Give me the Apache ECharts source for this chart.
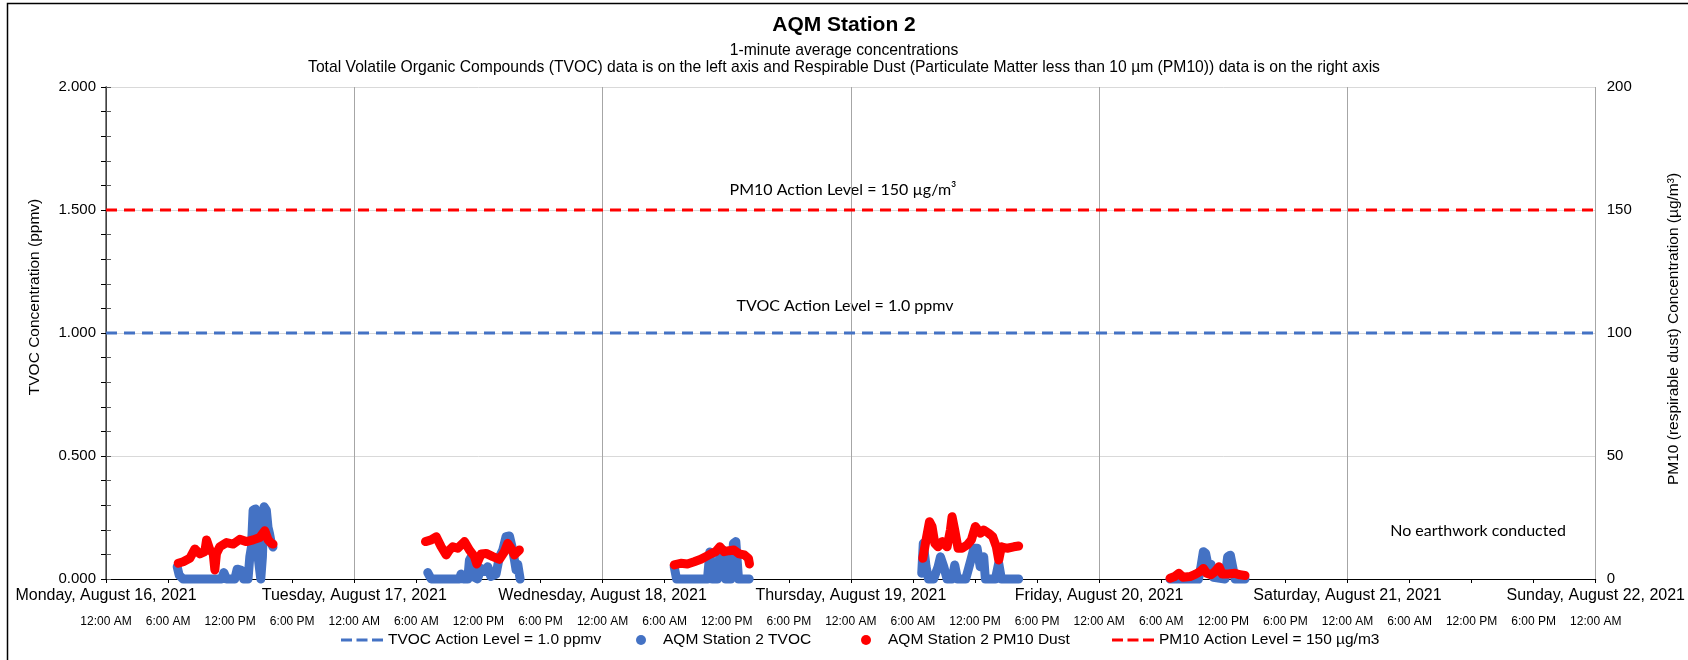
<!DOCTYPE html>
<html><head><meta charset="utf-8">
<script src="https://cdn.jsdelivr.net/npm/echarts@6/dist/echarts.min.js"></script>
<style>html,body{margin:0;padding:0;background:#fff}#c{width:1688px;height:660px}</style>
</head><body><div id="c"></div>
<script>
// ---- tick labels ----
const dayLabels = ['Monday, August 16, 2021','Tuesday, August 17, 2021','Wednesday, August 18, 2021','Thursday, August 19, 2021','Friday, August 20, 2021','Saturday, August 21, 2021','Sunday, August 22, 2021'];
const timeLabels = ['12:00 AM','6:00 AM','12:00 PM','6:00 PM'];
// x values are hours since Monday, August 16, 2021 12:00 AM
const xStart = 0, xEnd = 144;
const tvocActionLevel = 1.0;   // ppmv
const pm10ActionLevel = 150;   // µg/m3

// ---- TVOC (ppmv) readings ----
const tvocDay1 = [[6.88,0.05],[7.07,0.016],[7.45,0],[11.16,0],[11.39,0.026],[11.65,0],[12.45,0],[12.68,0.04],[13.1,0.035],[13.3,0],[13.73,0],[13.9,0.09],[14.06,0.13],[14.22,0.28],[14.44,0.285],[14.54,0.186],[14.7,0.09],[14.96,0],[15.12,0.09],[15.28,0.294],[15.5,0.28],[15.66,0.21],[15.8,0.186],[15.98,0.145],[16.14,0.13]];
const tvocDay2 = [[31.1,0.026],[31.43,0],[34.15,0],[34.32,0.02],[34.55,0],[34.97,0],[35.13,0.077],[35.3,0.09],[35.5,0.01],[35.9,0],[36.26,0.043],[36.6,0.03],[36.9,0.05],[37.2,0.01],[37.7,0.02],[38.03,0.09],[38.35,0.118],[38.67,0.172],[39.0,0.175],[39.25,0.13],[39.48,0.077],[39.64,0.037],[39.8,0.06],[40.03,0]];
const tvocDay3 = [[54.92,0.05],[55.15,0],[58.14,0],[58.37,0.11],[58.6,0],[59.1,0],[59.33,0.095],[59.65,0.118],[59.9,0],[60.4,0],[60.65,0.145],[60.88,0.152],[61.14,0],[62.17,0]];
const tvocDay4 = [[78.85,0.023],[79.0,0.145],[79.27,0.05],[79.5,0],[80.0,0],[80.43,0.05],[80.66,0.09],[80.98,0.05],[81.3,0],[81.78,0],[82.04,0.057],[82.3,0],[83.1,0],[83.6,0.077],[83.9,0.125],[84.2,0.125],[84.5,0.05],[84.84,0.09],[85.0,0],[85.97,0],[86.29,0.064],[86.55,0],[88.22,0]];
const tvocDay5 = [[102.85,0],[105.6,0],[105.84,0.05],[106.07,0.111],[106.29,0.104],[106.55,0.05],[106.81,0.06],[107.04,0.007],[108.16,0],[108.42,0.09],[108.68,0.097],[108.9,0.05],[109.13,0],[110.1,0]];

// ---- PM10 (µg/m3) readings ----
const pm10Day1 = [[6.98,6.4],[7.46,7.0],[8.1,8.4],[8.59,12.2],[9.07,10.2],[9.55,11.1],[9.72,15.9],[10.04,11.8],[10.36,10.4],[10.52,3.7],[10.68,10.4],[11.0,13.1],[11.65,14.8],[12.29,14.2],[12.93,16.1],[13.58,15.2],[14.22,15.9],[14.86,16.9],[15.35,19.6],[15.67,15.9],[15.99,14.5],[16.15,14.2]];
const pm10Day2 = [[30.88,15.2],[31.43,15.9],[31.92,17.2],[32.4,13.1],[32.88,9.8],[33.2,11.8],[33.52,13.1],[34.0,12.5],[34.65,15.2],[35.13,11.8],[35.62,9.1],[35.84,6.1],[36.26,10.2],[36.74,10.4],[37.39,9.1],[38.03,8.0],[38.51,11.1],[38.83,14.5],[39.16,12.5],[39.48,9.8],[39.96,11.8]];
const pm10Day3 = [[54.92,5.7],[55.56,6.4],[56.2,6.1],[56.85,7.0],[57.5,8.0],[57.98,9.1],[58.46,10.2],[58.94,11.1],[59.33,13.1],[59.75,11.1],[60.23,11.5],[60.7,11.8],[61.2,10.2],[61.7,9.8],[62.1,8.4],[62.2,6.1]];
const pm10Day4 = [[78.95,8.4],[79.27,15.9],[79.6,23.3],[79.85,21.3],[80.11,14.5],[80.43,13.1],[80.82,15.2],[81.3,13.1],[81.62,19.9],[81.78,25.3],[82.04,19.9],[82.36,12.5],[82.75,12.5],[83.23,13.8],[83.65,15.9],[84.03,21.3],[84.52,18.6],[84.84,19.9],[85.32,18.6],[85.71,17.2],[86.06,13.1],[86.29,7.7],[86.55,13.1],[87.1,12.5],[87.74,13.1],[88.22,13.4]];
const pm10Day5 = [[102.85,0.3],[103.3,1.0],[103.7,2.3],[104.1,0.7],[104.78,1.0],[105.33,2.0],[105.75,3.0],[106.07,4.3],[106.4,2.3],[106.81,1.7],[107.2,3.0],[107.58,5.0],[107.9,2.0],[108.48,2.0],[109.13,2.3],[109.61,1.7],[110.1,1.4]];

function joinDays(days){
  const out = [];
  days.forEach((d, i) => {
    if (i > 0) out.push([d[0][0], null]);
    d.forEach(p => out.push(p));
  });
  return out;
}

const BLUE = '#4472C4', RED = '#FF0000';
const ARIAL = '"Liberation Sans", Arial, sans-serif';
const CAL = 'Lato, "Open Sans", sans-serif';
const dashIcon = 'path://M0,0h11v3h-11z M15.5,0h11v3h-11z M31,0h11v3h-11z';
const legendText = {fontFamily: ARIAL, fontSize: 15.5, color: '#000'};

const chart = echarts.init(document.getElementById('c'), null, {renderer: 'canvas'});
chart.setOption({
  animation: false,
  backgroundColor: '#fff',
  title: [
    {text: 'AQM Station 2', left: 'center', top: 15, padding: 0, textStyle: {fontFamily: ARIAL, fontSize: 21, fontWeight: 'bold', color: '#000'}},
    {text: '1-minute average concentrations', left: 'center', top: 43, padding: 0, textStyle: {fontFamily: ARIAL, fontSize: 15.7, fontWeight: 'normal', color: '#000'}},
    {text: 'Total Volatile Organic Compounds (TVOC) data is on the left axis and Respirable Dust (Particulate Matter less than 10 µm (PM10)) data is on the right axis', left: 'center', top: 60, padding: 0, textStyle: {fontFamily: ARIAL, fontSize: 15.7, fontWeight: 'normal', color: '#000'}}
  ],
  legend: [
    {data: [{name: 'TVOC Action Level = 1.0 ppmv', icon: dashIcon}], left: 341, top: 632, padding: 0, itemWidth: 42, itemHeight: 3, selectedMode: false, textStyle: legendText},
    {data: [{name: 'AQM Station 2 TVOC', icon: 'circle'}], left: 636, top: 632, padding: 0, itemWidth: 34, itemHeight: 10, selectedMode: false, textStyle: legendText},
    {data: [{name: 'AQM Station 2 PM10 Dust', icon: 'circle'}], left: 861, top: 632, padding: 0, itemWidth: 34, itemHeight: 10, selectedMode: false, textStyle: legendText},
    {data: [{name: 'PM10 Action Level = 150 µg/m3', icon: dashIcon}], left: 1112, top: 632, padding: 0, itemWidth: 42, itemHeight: 3, selectedMode: false, textStyle: legendText}
  ],
  grid: {left: 106, right: 90, top: 87, bottom: 81, containLabel: false},
  xAxis: [
    {type: 'value', min: xStart, max: xEnd, interval: 6, position: 'bottom',
     axisLine: {onZero: false, lineStyle: {color: '#000', width: 1}},
     axisTick: {length: 4, lineStyle: {color: '#000'}},
     splitLine: {show: false},
     axisLabel: {margin: 37, fontFamily: ARIAL, fontSize: 12, color: '#000',
       formatter: v => timeLabels[Math.round(v / 6) % 4]}},
    {type: 'value', min: xStart, max: xEnd, interval: 24, position: 'bottom',
     axisLine: {show: false, onZero: false}, axisTick: {show: false},
     splitLine: {show: true, lineStyle: {color: '#a6a6a6', width: 1}},
     axisLabel: {margin: 9, fontFamily: ARIAL, fontSize: 16, color: '#000',
       formatter: v => dayLabels[Math.round(v / 24)]}}
  ],
  yAxis: [
    {type: 'value', min: 0, max: 2, interval: 0.5, position: 'left',
     axisLine: {show: true, lineStyle: {color: '#000', width: 1}},
     axisTick: {show: true, length: 5, lineStyle: {color: '#000'}},
     minorTick: {show: true, splitNumber: 5, length: 5, lineStyle: {color: '#000'}},
     splitLine: {show: true, lineStyle: {color: '#d9d9d9', width: 1}},
     axisLabel: {margin: 10, fontFamily: ARIAL, fontSize: 15, color: '#000', formatter: v => v.toFixed(3)}},
    {type: 'value', min: 0, max: 200, interval: 50, position: 'right',
     axisLine: {show: true, lineStyle: {color: '#595959', width: 1.5}},
     axisTick: {show: true, length: 5, lineStyle: {color: '#595959'}},
     minorTick: {show: true, splitNumber: 5, length: 5, lineStyle: {color: '#595959'}},
     splitLine: {show: false},
     axisLabel: {margin: 11, fontFamily: ARIAL, fontSize: 15, color: '#000'}}
  ],
  series: [
    {name: 'TVOC Action Level = 1.0 ppmv', type: 'line', xAxisIndex: 0, yAxisIndex: 0, color: BLUE, symbol: 'none', silent: true,
     data: [[xStart, tvocActionLevel], [xEnd, tvocActionLevel]],
     lineStyle: {color: BLUE, width: 3, type: [11, 7]}},
    {name: 'AQM Station 2 TVOC', type: 'line', xAxisIndex: 0, yAxisIndex: 0, color: BLUE, symbol: 'none', clip: false, connectNulls: false,
     data: joinDays([tvocDay1, tvocDay2, tvocDay3, tvocDay4, tvocDay5]),
     itemStyle: {color: BLUE},
     lineStyle: {color: BLUE, width: 9, cap: 'round', join: 'round'}},
    {name: 'AQM Station 2 PM10 Dust', type: 'line', xAxisIndex: 0, yAxisIndex: 1, color: RED, symbol: 'none', clip: false, connectNulls: false,
     data: joinDays([pm10Day1, pm10Day2, pm10Day3, pm10Day4, pm10Day5]),
     itemStyle: {color: RED},
     lineStyle: {color: RED, width: 9, cap: 'round', join: 'round'}},
    {name: 'PM10 Action Level = 150 µg/m3', type: 'line', xAxisIndex: 0, yAxisIndex: 1, color: RED, symbol: 'none', silent: true,
     data: [[xStart, pm10ActionLevel], [xEnd, pm10ActionLevel]],
     lineStyle: {color: RED, width: 3, type: [11, 7]}}
  ],
  graphic: [
    {type: 'rect', z: 100, silent: true, shape: {x: 7.5, y: 3.5, width: 1800, height: 800}, style: {fill: 'none', stroke: '#000', lineWidth: 1.5}},
    {type: 'text', x: 35, y: 297, rotation: Math.PI / 2, silent: true,
     style: {text: 'TVOC Concentration (ppmv)', fill: '#000', font: '15.5px ' + ARIAL, align: 'center', verticalAlign: 'middle', textAlign: 'center', textVerticalAlign: 'middle'}},
    {type: 'text', x: 1674, y: 329, rotation: Math.PI / 2, silent: true,
     style: {text: 'PM10 (respirable dust) Concentration (µg/m³)', fill: '#000', font: '15.5px ' + ARIAL, align: 'center', verticalAlign: 'middle', textAlign: 'center', textVerticalAlign: 'middle'}},
    {type: 'text', x: 843, y: 190, silent: true,
     style: {text: 'PM10 Action Level = 150 µg/m³', fill: '#000', font: '16px ' + CAL, align: 'center', verticalAlign: 'middle', textAlign: 'center', textVerticalAlign: 'middle'}},
    {type: 'text', x: 845, y: 306, silent: true,
     style: {text: 'TVOC Action Level = 1.0 ppmv', fill: '#000', font: '16px ' + CAL, align: 'center', verticalAlign: 'middle', textAlign: 'center', textVerticalAlign: 'middle'}},
    {type: 'text', x: 1478, y: 531, silent: true,
     style: {text: 'No earthwork conducted', fill: '#000', font: '16px ' + CAL, align: 'center', verticalAlign: 'middle', textAlign: 'center', textVerticalAlign: 'middle'}}
  ]
});
</script></body></html>
